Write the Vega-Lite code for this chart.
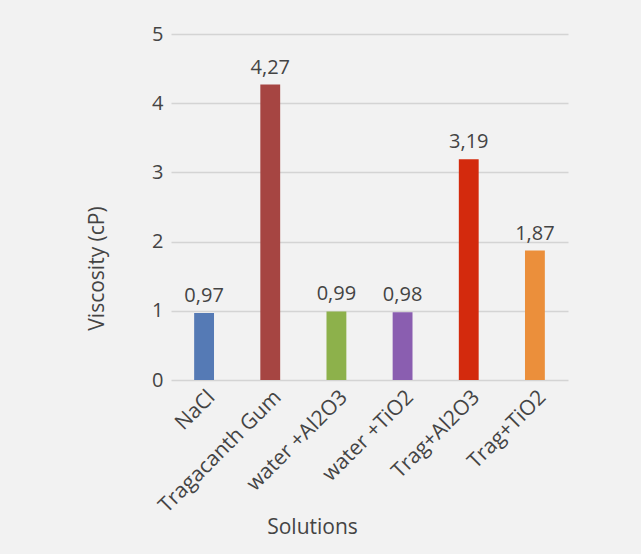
{
  "$schema": "https://vega.github.io/schema/vega-lite/v6.json",
  "autosize": {"type": "none"},
  "width": 397,
  "height": 346,
  "padding": {"left": 171, "top": 34, "right": 73, "bottom": 174},
  "background": "#f2f2f2",
  "data": {
    "values": [
      {"solution": "NaCl", "viscosity": 0.97},
      {"solution": "Tragacanth Gum", "viscosity": 4.27},
      {"solution": "water +Al2O3", "viscosity": 0.99},
      {"solution": "water +TiO2", "viscosity": 0.98},
      {"solution": "Trag+Al2O3", "viscosity": 3.19},
      {"solution": "Trag+TiO2", "viscosity": 1.87}
    ]
  },
  "encoding": {
    "x": {
      "field": "solution",
      "type": "nominal",
      "sort": null,
      "scale": {"paddingInner": 0.7, "paddingOuter": 0.35},
      "axis": {
        "title": "Solutions",
        "titleX": 141,
        "titleY": 153,
        "titleAlign": "center",
        "titleBaseline": "alphabetic",
        "labelAngle": -45,
        "labelAlign": "right",
        "labelBaseline": "top",
        "labelPadding": 6,
        "labelFontSize": 21,
        "domain": false,
        "ticks": false
      }
    },
    "y": {
      "field": "viscosity",
      "type": "quantitative",
      "scale": {"domain": [0, 5], "nice": false},
      "axis": {
        "title": "Viscosity (cP)",
        "values": [0, 1, 2, 3, 4, 5],
        "titleX": -68,
        "titleY": 234,
        "titleAlign": "center",
        "titleBaseline": "alphabetic",
        "titleAngle": -90,
        "labelPadding": 8,
        "domain": false,
        "ticks": false
      }
    }
  },
  "layer": [
    {
      "mark": {"type": "bar"},
      "encoding": {
        "color": {
          "field": "solution",
          "type": "nominal",
          "sort": null,
          "scale": {
            "domain": ["NaCl", "Tragacanth Gum", "water +Al2O3", "water +TiO2", "Trag+Al2O3", "Trag+TiO2"],
            "range": ["#557ab5", "#a64542", "#8db14b", "#8a5eb0", "#d32a0d", "#eb8f3b"]
          },
          "legend": null
        }
      }
    },
    {
      "mark": {"type": "text", "dy": -11, "baseline": "alphabetic", "fontSize": 20, "font": "Open Sans", "color": "#444444"},
      "encoding": {
        "text": {"field": "viscosity", "type": "quantitative", "format": ".2f"}
      }
    }
  ],
  "config": {
    "locale": {"number": {"decimal": ",", "thousands": ".", "grouping": [3], "currency": ["", " €"]}},
    "view": {"stroke": null},
    "font": "Open Sans",
    "axis": {
      "labelFont": "Open Sans",
      "labelFontSize": 20,
      "labelColor": "#444444",
      "titleFont": "Open Sans",
      "titleFontSize": 21,
      "titleFontWeight": "normal",
      "titleColor": "#444444",
      "gridColor": "#d4d4d4",
      "gridWidth": 1.5
    }
  }
}
